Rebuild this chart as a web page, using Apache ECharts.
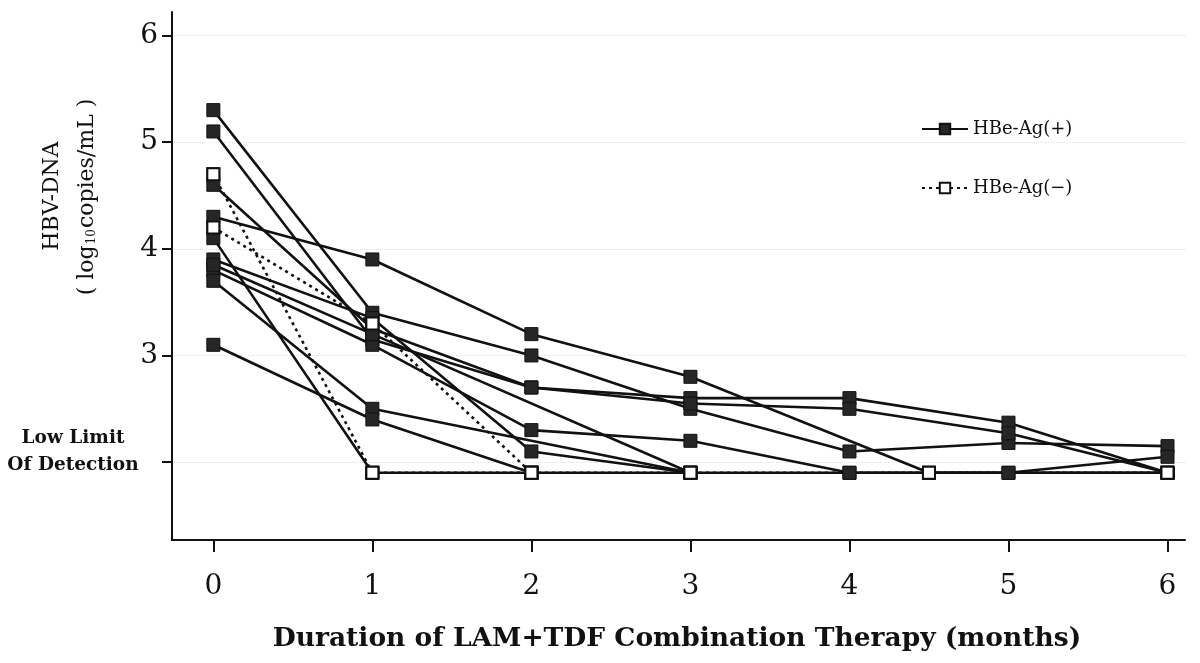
<!DOCTYPE html>
<html>
<head>
<meta charset="utf-8">
<title>HBV-DNA under LAM+TDF</title>
<script src="https://cdn.jsdelivr.net/npm/echarts@6/dist/echarts.min.js"></script>
<style>
  html, body { margin: 0; padding: 0; background: #fff; }
  #chart { width: 1200px; height: 663px; }
</style>
</head>
<body>
<div id="chart"></div>
<script>
// months on the x axis, log10 copies/mL on the y axis
const months = [0, 1, 2, 3, 4, 5, 6];
const yTicks = [2, 3, 4, 5, 6];
const yLabels = [3, 4, 5, 6];

// HBe-Ag(+) patients, [month, value]
const pos1 = [[0, 5.3], [1, 3.4], [2, 3.0], [3, 2.5], [4, 2.1], [5, 2.18], [6, 2.15]];
const pos2 = [[0, 4.3], [1, 3.9], [2, 3.2], [3, 2.8], [4.5, 1.9], [6, 1.9]];
const pos3 = [[0, 5.1], [1, 3.15], [2, 2.7], [3, 2.6], [4, 2.6], [5, 2.37], [6, 1.9]];
const pos4 = [[0, 4.6], [1, 3.25], [2, 2.7], [3, 2.55], [4, 2.5], [5, 2.27], [6, 1.9]];
const pos5 = [[0, 3.9], [1, 3.35], [2, 2.1], [3, 1.9], [4, 1.9], [5, 1.9], [6, 2.05]];
const pos6 = [[0, 3.8], [1, 3.1], [2, 2.3], [3, 2.2], [4, 1.9], [5, 1.9], [6, 1.9]];
const pos7 = [[0, 3.7], [1, 2.5], [3, 1.9]];
const pos8 = [[0, 3.1], [1, 2.4], [2, 1.9], [3, 1.9]];
const pos9 = [[0, 4.1], [1, 1.9], [2, 1.9]];
const pos10 = [[0, 3.85], [1, 3.2], [3, 1.9]];

// HBe-Ag(-) patients
const neg1 = [[0, 4.7], [1, 1.9], [2, 1.9], [3, 1.9], [4.5, 1.9], [6, 1.9]];
const neg2 = [[0, 4.2], [1, 3.3], [2, 1.9]];

const POS = 'HBe-Ag(+)';
const NEG = 'HBe-Ag(\u2212)';
const serif = 'DejaVu Serif';
const ink = '#111';

const chart = echarts.init(document.getElementById('chart'));

const openMarker = { color: '#fff', borderColor: ink, borderWidth: 2, opacity: 1 };

function posSeries(data) {
  return {
    name: POS, type: 'line', data: data,
    symbol: 'rect', symbolSize: 13, showAllSymbol: true,
    lineStyle: { color: ink, width: 2.6 },
    itemStyle: { color: '#262626', borderColor: ink, borderWidth: 1 },
    emphasis: { disabled: true }, z: 2
  };
}
// dotted lines sit under the solid ones
function negSeries(data) {
  return {
    name: NEG, type: 'line', data: data,
    symbol: 'rect', symbolSize: 12, showAllSymbol: true,
    lineStyle: { color: ink, width: 2.6, type: [3, 4] },
    itemStyle: openMarker,
    emphasis: { disabled: true }, z: 1
  };
}
// open squares drawn again on top of everything
function negMarkers(data) {
  return {
    type: 'scatter', data: data, symbol: 'rect', symbolSize: 12,
    itemStyle: openMarker, emphasis: { disabled: true }, silent: true, z: 5
  };
}

const posList = [pos1, pos2, pos3, pos4, pos5, pos6, pos7, pos8, pos9, pos10];
const negList = [neg1, neg2];
const series = posList.map(posSeries)
  .concat(negList.map(negSeries))
  .concat(negList.map(negMarkers));

const option = {
  animation: false,
  grid: { left: 172, right: 15, top: 12, bottom: 123 },
  legend: {
    orient: 'vertical', left: 916, top: 115,
    itemWidth: 46, itemHeight: 13, itemGap: 41,
    data: [POS, NEG],
    textStyle: { fontFamily: serif, fontSize: 18, color: ink }
  },
  xAxis: {
    type: 'value', min: -0.26, max: 6.11,
    axisLine: { onZero: false, lineStyle: { color: ink, width: 2 } },
    axisTick: { customValues: months, length: 12, lineStyle: { color: ink, width: 2 } },
    axisLabel: { customValues: months, fontFamily: serif, fontSize: 28, color: ink, margin: 33 },
    splitLine: { show: false }
  },
  yAxis: {
    type: 'value', min: 1.27, max: 6.22,
    axisLine: { show: true, onZero: false, lineStyle: { color: ink, width: 2 } },
    axisTick: { show: true, customValues: yTicks, length: 10, lineStyle: { color: ink, width: 2 } },
    axisLabel: { customValues: yLabels, fontFamily: serif, fontSize: 28, color: ink, margin: 14 },
    splitLine: { show: true, lineStyle: { color: '#e2e2e2', type: 'dotted', width: 1 } }
  },
  graphic: [
    {
      type: 'text', x: 52, y: 196, rotation: Math.PI / 2,
      style: { text: 'HBV-DNA', fontFamily: serif, fontSize: 22, fill: ink, align: 'center', verticalAlign: 'middle' }
    },
    {
      type: 'text', x: 87, y: 197, rotation: Math.PI / 2,
      style: {
        text: '( log{s|10}copies/mL )', fontFamily: serif, fontSize: 22, fill: ink,
        align: 'center', verticalAlign: 'middle',
        rich: { s: { fontFamily: serif, fontSize: 12, fill: ink, padding: [10, 1, 0, 1] } }
      }
    },
    {
      type: 'text', x: 73, y: 452,
      style: {
        text: 'Low Limit\nOf Detection', fontFamily: serif, fontWeight: 'bold', fontSize: 18.5,
        lineHeight: 27, fill: ink, align: 'center', verticalAlign: 'middle'
      }
    },
    {
      type: 'text', x: 677, y: 639,
      style: {
        text: 'Duration of LAM+TDF Combination Therapy (months)', fontFamily: serif, fontWeight: 'bold',
        fontSize: 26.5, fill: ink, align: 'center', verticalAlign: 'middle'
      }
    }
  ],
  series: series
};

chart.setOption(option);
</script>
</body>
</html>
